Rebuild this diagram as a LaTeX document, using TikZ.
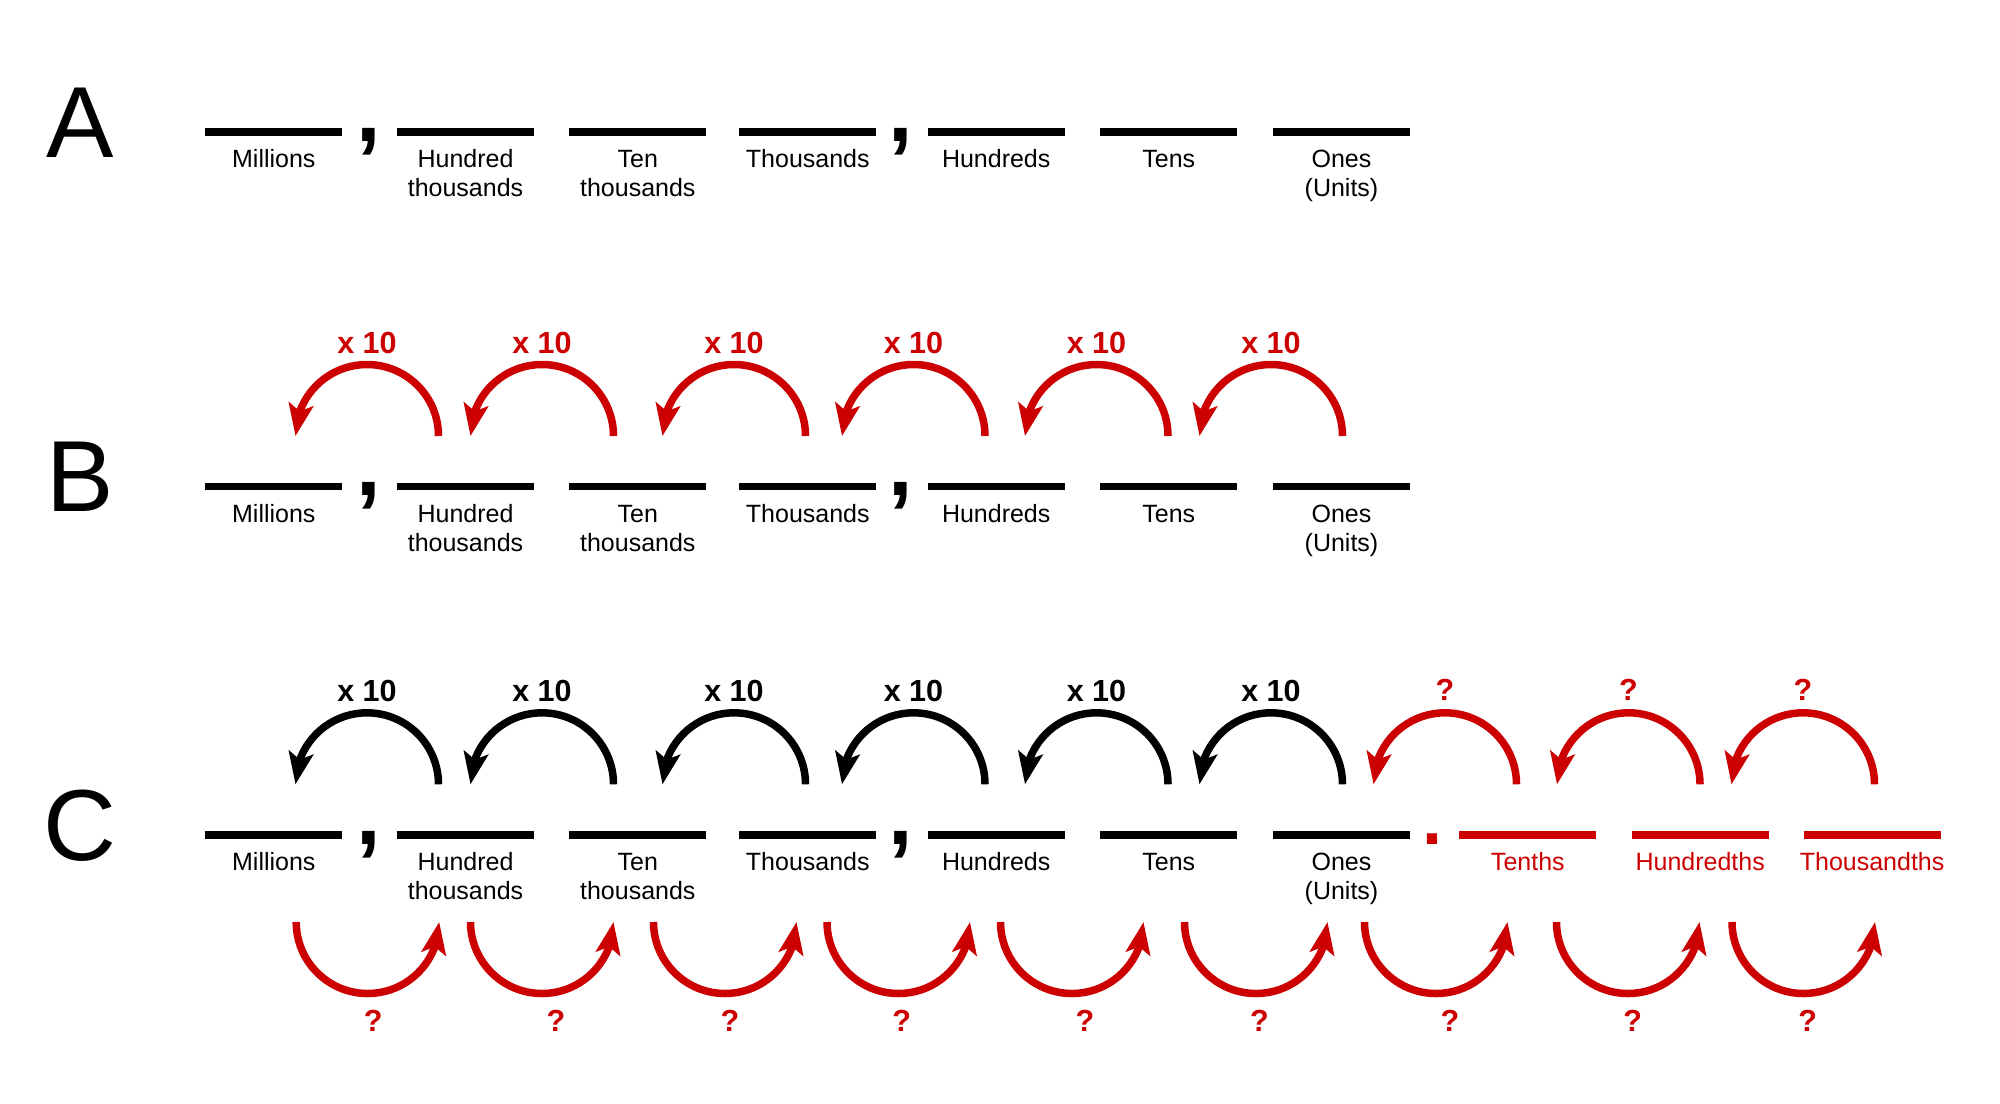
\documentclass[tikz,border=0pt]{standalone}
\usepackage{fontspec}
\setmainfont{Liberation Sans}
\usetikzlibrary{arrows.meta,bending}
\definecolor{dred}{RGB}{204,0,0}
\tikzset{
  seg/.style={line width=3.75pt},
  lbl/.style={anchor=base, inner sep=0pt, font=\fontsize{12.5}{14.35}\selectfont},
  rowletter/.style={anchor=base, inner sep=0pt, font=\fontsize{50.5}{60}\selectfont},
  mult/.style={anchor=base, inner sep=0pt, font=\fontsize{15.25}{18}\selectfont\bfseries},
  sepmark/.style={anchor=base, inner sep=0pt, font=\fontsize{44}{50}\selectfont\bfseries},
  decpt/.style={anchor=base, inner sep=0pt, font=\fontsize{36}{40}\selectfont\bfseries},
  jump/.style={line width=3.75pt, -{Stealth[length=16pt,width=12.25pt,inset=3.5pt]}},
}
\begin{document}
\begin{tikzpicture}[x=0.5pt,y=-0.5pt]
\useasboundingbox (0,0) rectangle (2000,1103);
% rows of place-value blanks
\foreach \r/\yy in {A/132.2,B/486.7,C/835}{
  \node[rowletter] (L\r) at (80,\yy+25) {\r};
  \foreach \xx/\nm/\tx in {205.3/mil/Millions,397/hth/Hundred\\thousands,569.3/tth/Ten\\thousands,739.3/th/Thousands,927.7/hun/Hundreds,1100.3/ten/Tens,1273/one/Ones\\(Units)}{
    \draw[seg] (\xx,\yy) coordinate (\r\nm-s) -- ++(137,0) coordinate (\r\nm-e);
    \node[lbl] (\r\nm-l) at (\xx+68.5,\yy+35.7) {\begin{tabular}[t]{@{}c@{}}\tx\end{tabular}};
  }
  \node[sepmark] (\r-c1) at (369.2,\yy+9) {,};
  \node[sepmark] (\r-c2) at (900.8,\yy+9) {,};
}
% decimal part of row C
\node[decpt,text=dred] (dot) at (1432.3,844) {.};
\foreach \xx/\nm/\tx in {1459.3/tenths/Tenths,1631.7/hundredths/Hundredths,1803.6/thousandths/Thousandths}{
  \draw[seg,dred] (\xx,835) coordinate (C\nm-s) -- ++(137,0) coordinate (C\nm-e);
  \node[lbl,text=dred] (C\nm-l) at (\xx+68.5,870.7) {\tx};
}
% x10 arcs, rows B and C
\foreach \c [count=\i] in {367,542,734,913.5,1096.5,1271}{
  \draw[jump,dred] (\c+71.5,436) coordinate (Bst\i) arc[start angle=0,end angle=180,radius=35.75pt];
  \node[mult,text=dred] (Bx\i) at (\c,353.3) {x 10};
  \draw[jump] (\c+71.5,784.3) coordinate (Cst\i) arc[start angle=0,end angle=180,radius=35.75pt];
  \node[mult] (Cx\i) at (\c,701.6) {x 10};
}
% red top arcs over decimals
\foreach \c [count=\i] in {1445,1628.5,1803}{
  \draw[jump,dred] (\c+71.5,784.3) coordinate (Dst\i) arc[start angle=0,end angle=180,radius=35.75pt];
  \node[mult,text=dred] (Dq\i) at (\c,700) {?};
}
% bottom arcs
\foreach \c/\q [count=\i] in {367.7/373.3,542/556,725/730,898.5/901.7,1072/1085,1256/1259.3,1436/1450,1628/1632.6,1803.5/1807.6}{
  \draw[jump,dred] (\c-71.5,922) coordinate (Est\i) arc[start angle=180,end angle=360,radius=35.75pt];
  \node[mult,text=dred] (Eq\i) at (\q,1031.7) {?};
}
\end{tikzpicture}
\end{document}
